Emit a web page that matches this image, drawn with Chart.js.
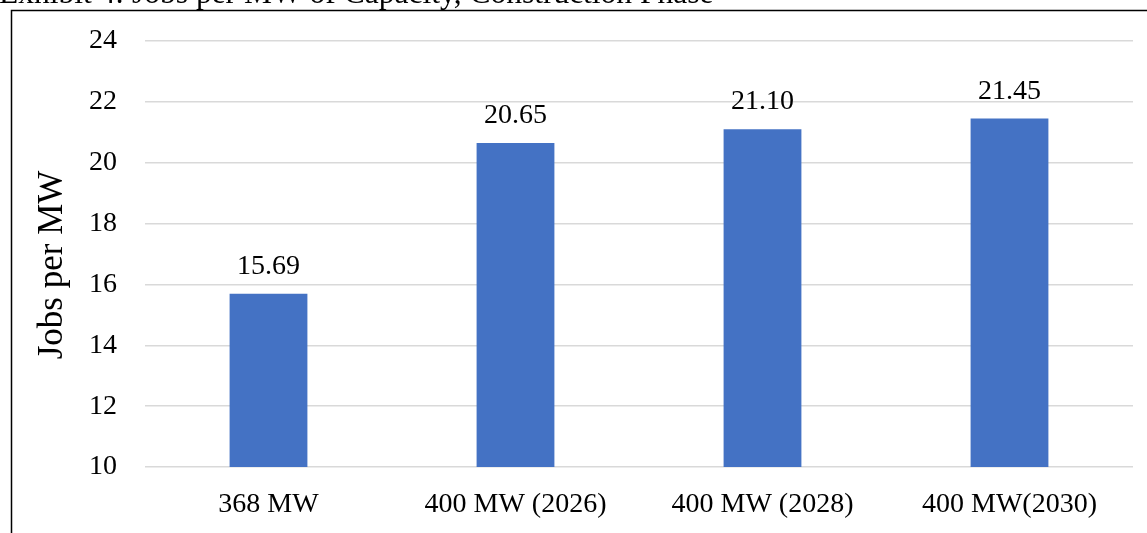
<!DOCTYPE html>
<html>
<head>
<meta charset="utf-8">
<script src="https://cdn.jsdelivr.net/npm/chart.js@4"></script>
<style>
  html, body { margin: 0; padding: 0; background: #ffffff; }
  #wrap { position: relative; width: 1147px; height: 533px; }
</style>
</head>
<body>
<div id="wrap"><canvas id="chart"></canvas></div>
<script>
// Construction-phase jobs per MW for each capacity scenario
const categories = ["368 MW", "400 MW (2026)", "400 MW (2028)", "400 MW(2030)"];
const jobsPerMW = [15.69, 20.65, 21.10, 21.45];
const valueLabels = ["15.69", "20.65", "21.10", "21.45"];
const yTickValues = [10, 12, 14, 16, 18, 20, 22, 24];

const exhibitTitle = "Exhibit 4: Jobs per MW of Capacity, Construction Phase";
const yAxisTitle = "Jobs per MW";

const FONT = "'Liberation Serif', 'Times New Roman', serif";
const BAR_BLUE = "#4472C4";
const GRID_GREY = "#d9d9d9";

// Frame, exhibit heading and the rotated axis title
const decorations = {
  id: "decorations",
  afterDraw(chart) {
    const ctx = chart.ctx;
    const area = chart.chartArea;
    ctx.save();
    ctx.fillStyle = "#000";
    ctx.font = "31.5px " + FONT;
    ctx.textAlign = "left";
    ctx.textBaseline = "alphabetic";
    ctx.fillText(exhibitTitle, -1, 3);

    ctx.strokeStyle = "#000";
    ctx.lineWidth = 1.5;
    ctx.beginPath();
    ctx.moveTo(11.5, 540);
    ctx.lineTo(11.5, 10.5);
    ctx.lineTo(1160, 10.5);
    ctx.stroke();

    ctx.translate(53, (area.top + area.bottom) / 2 + 11);
    ctx.rotate(-Math.PI / 2);
    ctx.textAlign = "center";
    ctx.textBaseline = "middle";
    ctx.font = "35px " + FONT;
    ctx.fillText(yAxisTitle, 0, 0);
    ctx.restore();
  }
};

// Value printed above each bar
const barValues = {
  id: "barValues",
  afterDatasetsDraw(chart) {
    const ctx = chart.ctx;
    const meta = chart.getDatasetMeta(0);
    ctx.save();
    ctx.fillStyle = "#000";
    ctx.font = "28px " + FONT;
    ctx.textAlign = "center";
    ctx.textBaseline = "alphabetic";
    meta.data.forEach((bar, i) => {
      ctx.fillText(valueLabels[i], bar.x, bar.y - 20);
    });
    ctx.restore();
  }
};

new Chart(document.getElementById("chart"), {
  type: "bar",
  data: {
    labels: categories,
    datasets: [{
      data: jobsPerMW,
      backgroundColor: BAR_BLUE,
      borderWidth: 0,
      categoryPercentage: 1.0,
      barPercentage: 0.315
    }]
  },
  options: {
    responsive: true,
    maintainAspectRatio: false,
    animation: false,
    devicePixelRatio: 1,
    layout: { padding: { left: 12, top: 41, right: 14, bottom: 0 } },
    plugins: {
      legend: { display: false },
      tooltip: { enabled: false }
    },
    scales: {
      x: {
        grid: { display: false, drawTicks: false },
        border: { display: false },
        ticks: {
          color: "#000",
          font: { family: FONT, size: 28 },
          padding: 21,
          maxRotation: 0,
          autoSkip: false
        },
        afterFit(scale) {
          scale.height = 66;
          scale.paddingLeft = 0;
          scale.paddingRight = 0;
        }
      },
      y: {
        min: 10,
        max: 24,
        afterBuildTicks(scale) {
          scale.ticks = yTickValues.map(v => ({ value: v }));
        },
        grid: { color: GRID_GREY, lineWidth: 1.5, drawTicks: false },
        border: { display: false },
        ticks: {
          color: "#000",
          font: { family: FONT, size: 28 },
          padding: 28
        },
        afterFit(scale) {
          scale.width = 133;
          scale.paddingTop = 0;
          scale.paddingBottom = 0;
        }
      }
    }
  },
  plugins: [decorations, barValues]
});
</script>
</body>
</html>
